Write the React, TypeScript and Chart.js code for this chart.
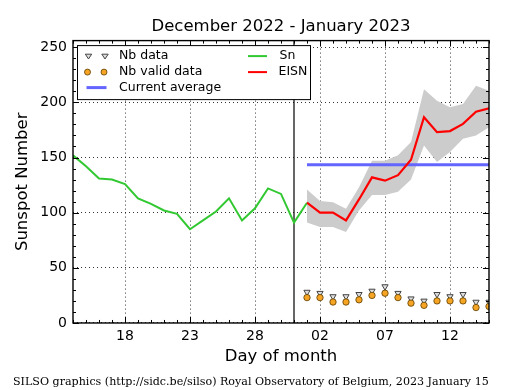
import React, { useEffect, useRef } from 'react';
import { Chart, registerables } from 'chart.js';

Chart.register(...registerables);

// ---- data (day index: Dec 1 = 1, Jan 1 = 32) ----
const snDays = [14, 15, 16, 17, 18, 19, 20, 21, 22, 23, 24, 25, 26, 27, 28, 29, 30, 31, 32];
const snValues = [152, 142, 131, 130, 126, 113, 108, 102, 99, 85, 93, 101, 113, 93, 104, 122, 117, 91, 109];

const eisnDays = [32, 33, 34, 35, 36, 37, 38, 39, 40, 41, 42, 43, 44, 45, 46];
const eisnValues = [109, 100, 100, 93, 112, 132, 129, 134, 148, 186.5, 173, 174, 180.5, 191.5, 194.5];
const eisnUpper = [121, 110.5, 109.5, 103.5, 123, 147, 147, 152, 164, 212, 201.5, 195.5, 198.5, 215, 210.5];
const eisnLower = [91, 87, 87, 82.5, 102, 116, 116, 119, 130, 161, 146, 155, 167, 170, 177.5];

const nbData = [28, 27, 24, 24, 26, 29, 33, 27, 22, 20, 26, 24, 26, 19, 19];
const nbValidData = [23, 23, 19, 19, 21, 25, 27, 23, 18, 16, 20, 20, 20, 14, 15];

const currentAverage = 143.5;
const currentAverageDays = [32, 46];
const todayDay = 31;

const xMin = 14;
const xMax = 46;
const yMin = 0;
const yMax = 256;
const xMajorTicks = [18, 23, 28, 33, 38, 43];
const xTickLabels = ['18', '23', '28', '02', '07', '12'];
const yMajorTicks = [0, 50, 100, 150, 200, 250];
const yMinorStep = 10;

const titleText = 'December 2022 - January 2023';
const footerText = 'SILSO graphics (http://sidc.be/silso) Royal Observatory of Belgium, 2023 January 15';

const GREEN = 'rgb(50,200,50)';
const RED = 'rgb(255,0,0)';
const BLUE = 'rgb(100,100,255)';
const BAND = 'rgb(204,204,204)';
const ORANGE = 'rgb(245,165,35)';

const pts = (xs: number[], ys: number[]) => xs.map((d, i) => ({ x: d, y: ys[i] }));

function drawTriangleDown(ctx: CanvasRenderingContext2D, cx: number, cy: number, r: number) {
  ctx.beginPath();
  ctx.moveTo(cx - r, cy - r * 0.6);
  ctx.lineTo(cx + r, cy - r * 0.6);
  ctx.lineTo(cx, cy + r * 0.9);
  ctx.closePath();
  ctx.fillStyle = '#dddddd';
  ctx.fill();
  ctx.strokeStyle = '#444';
  ctx.lineWidth = 1;
  ctx.stroke();
}

const framePlugin = {
  id: 'frameTicks',
  afterDatasetsDraw(chart: any) {
    const { ctx, chartArea: a, scales } = chart;
    const x = scales.x;
    const y = scales.y;
    ctx.save();
    ctx.strokeStyle = '#000';
    ctx.lineWidth = 1;
    ctx.beginPath();
    for (let d = xMin; d <= xMax; d++) {
      const px = Math.round(x.getPixelForValue(d)) + 0.5;
      const len = xMajorTicks.includes(d) ? 6 : 3;
      ctx.moveTo(px, a.bottom);
      ctx.lineTo(px, a.bottom - len);
      ctx.moveTo(px, a.top);
      ctx.lineTo(px, a.top + len);
    }
    for (let v = yMin; v <= yMajorTicks[yMajorTicks.length - 1]; v += yMinorStep) {
      const py = Math.round(y.getPixelForValue(v)) + 0.5;
      const len = yMajorTicks.includes(v) ? 6 : 3;
      ctx.moveTo(a.left, py);
      ctx.lineTo(a.left + len, py);
      ctx.moveTo(a.right, py);
      ctx.lineTo(a.right - len, py);
    }
    ctx.stroke();
    ctx.lineWidth = 1.4;
    ctx.strokeRect(a.left, a.top, a.right - a.left, a.bottom - a.top);
    ctx.restore();
  },
  afterDraw(chart: any) {
    const { ctx, chartArea: a } = chart;
    ctx.save();
    const bx = a.left + 4.5;
    const by = a.top + 5;
    const bw = 233;
    const bh = 54;
    ctx.fillStyle = '#fff';
    ctx.fillRect(bx, by, bw, bh);
    ctx.strokeStyle = '#000';
    ctx.lineWidth = 1;
    ctx.strokeRect(bx, by, bw, bh);
    const r1 = by + 10.5;
    const r2 = by + 26.5;
    const r3 = by + 42;
    drawTriangleDown(ctx, bx + 11, r1, 3.2);
    drawTriangleDown(ctx, bx + 27.5, r1, 3.2);
    for (const cx of [bx + 10, bx + 26.5]) {
      ctx.beginPath();
      ctx.arc(cx, r2, 3, 0, Math.PI * 2);
      ctx.fillStyle = ORANGE;
      ctx.fill();
      ctx.strokeStyle = '#5a3c00';
      ctx.lineWidth = 0.8;
      ctx.stroke();
    }
    const seg = (x0: number, x1: number, yy: number, color: string, w: number) => {
      ctx.beginPath();
      ctx.moveTo(x0, yy);
      ctx.lineTo(x1, yy);
      ctx.strokeStyle = color;
      ctx.lineWidth = w;
      ctx.stroke();
    };
    seg(bx + 9, bx + 29, r3, BLUE, 3);
    seg(bx + 170.5, bx + 189.5, r1, GREEN, 2);
    seg(bx + 170.5, bx + 189.5, r2, RED, 2);
    ctx.fillStyle = '#000';
    ctx.font = '12.5px "DejaVu Sans"';
    ctx.textBaseline = 'middle';
    ctx.textAlign = 'left';
    ctx.fillText('Nb data', bx + 41.5, r1);
    ctx.fillText('Nb valid data', bx + 41.5, r2);
    ctx.fillText('Current average', bx + 41.5, r3);
    ctx.fillText('Sn', bx + 202, r1);
    ctx.fillText('EISN', bx + 201, r2);
    ctx.restore();
  },
};

export default function App() {
  const ref = useRef<HTMLCanvasElement | null>(null);
  useEffect(() => {
    if (!ref.current) return;
    Chart.defaults.font.family = '"DejaVu Sans"';
    Chart.defaults.color = '#000';
    const chart = new Chart(ref.current, {
      type: 'line',
      data: {
        datasets: [
          {
            label: 'Nb valid data',
            data: pts(eisnDays, nbValidData),
            showLine: false,
            pointStyle: 'circle',
            pointRadius: 3.2,
            pointBackgroundColor: ORANGE,
            pointBorderColor: '#5a3c00',
            pointBorderWidth: 0.8,
            clip: 0,
          },
          {
            label: 'Nb data',
            data: pts(eisnDays, nbData),
            showLine: false,
            pointStyle: 'triangle',
            pointRotation: 180,
            pointRadius: 3.6,
            pointBackgroundColor: '#dddddd',
            pointBorderColor: '#444',
            pointBorderWidth: 1,
            clip: 0,
          },
          {
            label: 'EISN',
            data: pts(eisnDays, eisnValues),
            borderColor: RED,
            borderWidth: 2.2,
            pointRadius: 0,
            tension: 0,
            clip: 0,
          },
          {
            label: 'Sn',
            data: pts(snDays, snValues),
            borderColor: GREEN,
            borderWidth: 2,
            pointRadius: 0,
            tension: 0,
            clip: 0,
          },
          {
            label: 'today',
            data: [
              { x: todayDay, y: yMin },
              { x: todayDay, y: yMax },
            ],
            borderColor: '#000',
            borderWidth: 1.2,
            pointRadius: 0,
            clip: 0,
          },
          {
            label: 'Current average',
            data: currentAverageDays.map((d) => ({ x: d, y: currentAverage })),
            borderColor: BLUE,
            borderWidth: 3,
            pointRadius: 0,
            clip: 0,
          },
          {
            label: 'upper',
            data: pts(eisnDays, eisnUpper),
            borderWidth: 0,
            borderColor: 'rgba(0,0,0,0)',
            backgroundColor: BAND,
            pointRadius: 0,
            fill: 7,
            clip: 0,
          },
          {
            label: 'lower',
            data: pts(eisnDays, eisnLower),
            borderWidth: 0,
            borderColor: 'rgba(0,0,0,0)',
            pointRadius: 0,
            fill: false,
            clip: 0,
          },
        ],
      },
      options: {
        animation: false,
        responsive: false,
        devicePixelRatio: 1,
        layout: { padding: { left: 13, right: 26, top: 0, bottom: 0 } },
        plugins: {
          legend: { display: false },
          tooltip: { enabled: false },
          title: {
            display: true,
            text: titleText,
            fullSize: false,
            color: '#000',
            font: { size: 16.5, weight: 'normal' },
            padding: { top: 16.4, bottom: 4.4 },
          },
          subtitle: {
            display: true,
            text: footerText,
            position: 'bottom',
            align: 'start',
            color: '#000',
            font: { family: '"DejaVu Serif"', size: 11.1, weight: 'normal' },
            padding: { top: 2.6, bottom: 1.1 },
          },
        },
        scales: {
          x: {
            type: 'linear',
            min: xMin,
            max: xMax,
            afterBuildTicks: (s: any) => {
              s.ticks = xMajorTicks.map((v) => ({ value: v }));
            },
            afterFit: (s: any) => {
              s.height = 50;
            },
            ticks: {
              autoSkip: false,
              maxRotation: 0,
              padding: 5,
              font: { size: 14 },
              color: '#000',
              callback: (v: any) => {
                const i = xMajorTicks.indexOf(Number(v));
                return i >= 0 ? xTickLabels[i] : '';
              },
            },
            grid: {
              color: '#000',
              lineWidth: 0.8,
              drawTicks: false,
              borderDash: [1, 3],
            } as any,
            border: { display: false, dash: [1, 3] },
            title: {
              display: true,
              text: 'Day of month',
              color: '#000',
              font: { size: 16.5 },
              padding: { top: 6.4, bottom: 6.4 },
            },
          },
          y: {
            type: 'linear',
            min: yMin,
            max: yMax,
            afterBuildTicks: (s: any) => {
              s.ticks = yMajorTicks.map((v) => ({ value: v }));
            },
            afterFit: (s: any) => {
              s.width = 60;
            },
            ticks: {
              padding: 6,
              font: { size: 14 },
              color: '#000',
            },
            grid: {
              color: '#000',
              lineWidth: 0.8,
              drawTicks: false,
              borderDash: [1, 3],
            } as any,
            border: { display: false, dash: [1, 3] },
            title: {
              display: true,
              text: 'Sunspot Number',
              color: '#000',
              font: { size: 16.5 },
              padding: { top: 0, bottom: 0 },
            },
          },
        },
      },
      plugins: [framePlugin],
    } as any);
    return () => chart.destroy();
  }, []);
  return (
    <canvas
      ref={ref}
      width={515}
      height={390}
      style={{ position: 'absolute', left: 0, top: 0, width: 515, height: 390 }}
    />
  );
}
